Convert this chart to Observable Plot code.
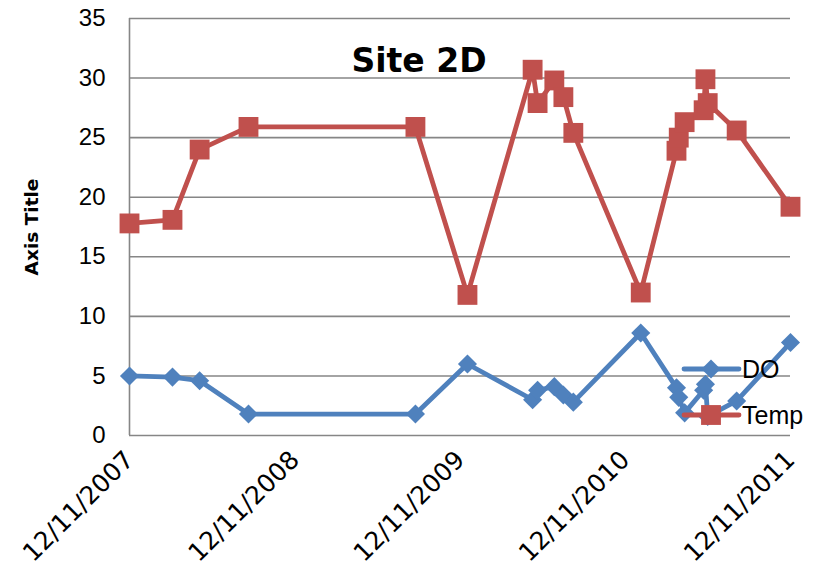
<!DOCTYPE html>
<html>
<head>
<meta charset="utf-8">
<script src="https://cdn.jsdelivr.net/npm/d3@7"></script>
<script src="https://cdn.jsdelivr.net/npm/@observablehq/plot@0.6"></script>
<style>
  body { margin: 0; background: #fff; }
  #chart { width: 813px; height: 571px; }
</style>
</head>
<body>
<div id="chart"></div>
<script>
// ---- data ----
const dates = [
  "2007-12-11", "2008-03-15", "2008-05-14", "2008-08-30", "2009-09-03",
  "2009-12-27", "2010-05-20", "2010-05-31", "2010-07-07", "2010-07-27",
  "2010-08-18", "2011-01-14", "2011-04-03", "2011-04-08", "2011-04-21",
  "2011-06-02", "2011-06-06", "2011-06-11", "2011-08-14", "2011-12-11"
];
const doValues = [
  5.0, 4.9, 4.6, 1.8, 1.8,
  6.0, 3.0, 3.8, 4.1, 3.4,
  2.8, 8.6, 4.0, 3.2, 1.9,
  3.8, 4.3, 1.6, 2.9, 7.8
];
const tempValues = [
  17.8, 18.1, 24.0, 25.9, 25.9,
  11.8, 30.7, 27.9, 29.8, 28.4,
  25.4, 12.0, 23.9, 25.0, 26.3,
  27.3, 29.9, 27.9, 25.6, 19.2
];
const yTicks = [0, 5, 10, 15, 20, 25, 30, 35];
const xTickDates = ["2007-12-11", "2008-12-11", "2009-12-11", "2010-12-11", "2011-12-11"];
const seriesNames = ["DO", "Temp"];
const seriesColors = ["#4F81BD", "#C0504D"];
const title = "Site 2D";
const yLabel = "Axis Title";

// ---- build ----
const parse = d3.utcParse("%Y-%m-%d");
const fmt = d3.utcFormat("%m/%d/%Y");
const data = dates.map((d, i) => ({date: parse(d), DO: doValues[i], Temp: tempValues[i]}));
const xTicks = xTickDates.map(parse);
const gridColor = "#868686";
const font = "'Liberation Sans', Arial, sans-serif";
const boldFont = "'DejaVu Sans', sans-serif";

const plot = Plot.plot({
  width: 813,
  height: 571,
  marginLeft: 129,
  marginRight: 23,
  marginTop: 18,
  marginBottom: 136,
  style: {fontFamily: font, background: "#fff", color: "#000"},
  x: {type: "utc", domain: [xTicks[0], xTicks[xTicks.length - 1]]},
  y: {domain: [0, 35]},
  marks: [
    Plot.gridY(yTicks, {stroke: gridColor, strokeOpacity: 1, strokeWidth: 1.6}),
    Plot.ruleX([xTicks[0]], {stroke: gridColor, strokeWidth: 1.6}),
    Plot.axisY(yTicks, {tickSize: 0, tickPadding: 24, fontSize: 24, label: null}),
    Plot.axisX(xTicks, {tickSize: 0, tickPadding: 20, tickRotate: -45, tickFormat: fmt, fontSize: 25, fontFamily: "'DejaVu Sans', sans-serif", label: null}),
    Plot.text([yLabel], {frameAnchor: "left", textAnchor: "middle", dx: -97, rotate: -90, fontWeight: "bold", fontSize: 18.5, fontFamily: boldFont}),
    Plot.line(data, {x: "date", y: "DO", stroke: seriesColors[0], strokeWidth: 4.8}),
    Plot.dot(data, {x: "date", y: "DO", symbol: "diamond2", r: 8.6, fill: seriesColors[0]}),
    Plot.line(data, {x: "date", y: "Temp", stroke: seriesColors[1], strokeWidth: 4.8}),
    Plot.dot(data, {x: "date", y: "Temp", symbol: "square", r: 11.2, fill: seriesColors[1]}),
    Plot.text([title], {frameAnchor: "top", dx: -41, dy: 30, fontSize: 33, fontWeight: "bold", fontFamily: boldFont})
  ]
});

// ---- legend (inside plot, right side) ----
const svg = d3.select(plot);
const legendItems = [
  {name: seriesNames[0], color: seriesColors[0], symbol: d3.symbolDiamond2, size: Math.PI * 8.6 * 8.6, y: 369},
  {name: seriesNames[1], color: seriesColors[1], symbol: d3.symbolSquare, size: Math.PI * 11.2 * 11.2, y: 415}
];
const lg = svg.append("g").attr("font-family", font).attr("font-size", 25).attr("text-anchor", "start");
legendItems.forEach(it => {
  lg.append("line").attr("x1", 684).attr("x2", 739).attr("y1", it.y).attr("y2", it.y)
    .attr("stroke", it.color).attr("stroke-width", 4.8).attr("stroke-linecap", "round");
  lg.append("path").attr("d", d3.symbol(it.symbol, it.size)()).attr("transform", `translate(711,${it.y})`)
    .attr("fill", it.color);
  lg.append("text").attr("x", 742).attr("y", it.y).attr("dy", "0.35em").text(it.name);
});

document.getElementById("chart").appendChild(plot);
</script>
</body>
</html>
